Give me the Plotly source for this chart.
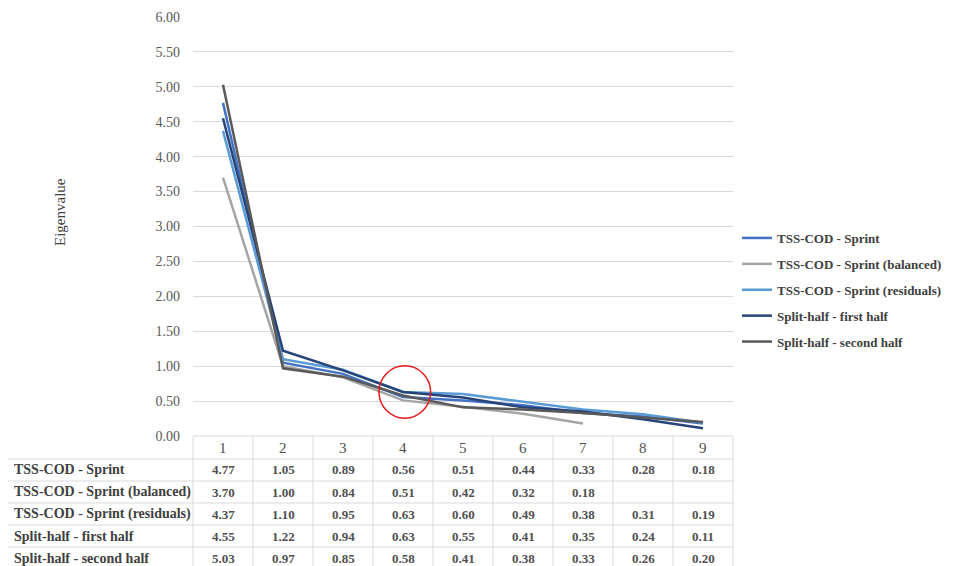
import plotly.graph_objects as go

factors = [1, 2, 3, 4, 5, 6, 7, 8, 9]
series_names = [
    "TSS-COD - Sprint",
    "TSS-COD - Sprint (balanced)",
    "TSS-COD - Sprint (residuals)",
    "Split-half - first half",
    "Split-half - second half",
]
tss_sprint = [4.77, 1.05, 0.89, 0.56, 0.51, 0.44, 0.33, 0.28, 0.18]
tss_balanced = [3.70, 1.00, 0.84, 0.51, 0.42, 0.32, 0.18, None, None]
tss_residuals = [4.37, 1.10, 0.95, 0.63, 0.60, 0.49, 0.38, 0.31, 0.19]
split_first = [4.55, 1.22, 0.94, 0.63, 0.55, 0.41, 0.35, 0.24, 0.11]
split_second = [5.03, 0.97, 0.85, 0.58, 0.41, 0.38, 0.33, 0.26, 0.20]
y_ticks = [0.0, 0.5, 1.0, 1.5, 2.0, 2.5, 3.0, 3.5, 4.0, 4.5, 5.0, 5.5, 6.0]

all_series = [tss_sprint, tss_balanced, tss_residuals, split_first, split_second]
colors = ["#4472C4", "#A5A5A5", "#5B9BD5", "#264478", "#595959"]

FONT = "Liberation Serif"
OFF = 8  # page body margin
W, H = 955 - OFF, 566 - OFF
PL, PR, PT, PB = 193, 733, 17, 436
L, T = PL - OFF, PT - OFF
R = W - (PR - OFF)
B = H - (PB - OFF)
PW = PR - PL
PH = PB - PT

def py(px):
    return (PB - px) / PH

def px_x(px):
    return (px - PL) / PW

fig = go.Figure()
for name, vals, col in zip(series_names, all_series, colors):
    fig.add_trace(go.Scatter(
        x=factors, y=vals, name=name, mode="lines",
        line=dict(color=col, width=2.5), legendgroup=name,
        connectgaps=False,
    ))

shapes = []
annotations = []
grid_col = "#d9d9d9"
txt_col = "#404040"
num_col = "#505050"
table_top = 436
row_h = 22
header_bottom = 459
row_lines = [header_bottom + i * row_h for i in range(6)]
shapes.append(dict(type="line", xref="paper", yref="paper", x0=0, x1=1,
                   y0=py(table_top), y1=py(table_top), line=dict(color=grid_col, width=1)))
for yl in row_lines:
    shapes.append(dict(type="line", xref="paper", yref="paper", x0=px_x(5), x1=1,
                       y0=py(yl), y1=py(yl), line=dict(color=grid_col, width=1)))
bottom = 575
for i in range(10):
    xp = i / 9
    shapes.append(dict(type="line", xref="paper", yref="paper", x0=xp, x1=xp,
                       y0=py(table_top), y1=py(bottom), line=dict(color=grid_col, width=1)))
shapes.append(dict(type="line", xref="paper", yref="paper", x0=px_x(5), x1=px_x(5),
                   y0=py(header_bottom), y1=py(bottom), line=dict(color=grid_col, width=1)))

for f in factors:
    annotations.append(dict(x=f, xref="x", y=py(table_top + 11.5), yref="paper",
                            text=str(f), showarrow=False, xanchor="center", yanchor="middle",
                            font=dict(family=FONT, size=15, color=num_col)))
for r, (name, vals) in enumerate(zip(series_names, all_series)):
    yc = py(header_bottom + r * row_h + row_h / 2)
    annotations.append(dict(x=px_x(12), xref="paper", y=yc, yref="paper", text="<b>" + name + "</b>",
                            showarrow=False, xanchor="left", yanchor="middle",
                            font=dict(family=FONT, size=14, color=txt_col)))
    for f, v in zip(factors, vals):
        if v is None:
            continue
        annotations.append(dict(x=f, xref="x", y=yc, yref="paper", text="<b>%.2f</b>" % v,
                                showarrow=False, xanchor="center", yanchor="middle",
                                font=dict(family=FONT, size=13, color=num_col)))

annotations.append(dict(x=px_x(60), xref="paper", y=py(212), yref="paper", text="Eigenvalue",
                        textangle=-90, showarrow=False, xanchor="center", yanchor="middle",
                        font=dict(family=FONT, size=15, color=txt_col)))

shapes.append(dict(type="circle", xref="x", yref="y",
                   x0=4.03 - 0.43, x1=4.03 + 0.43, y0=0.63 - 0.375, y1=0.63 + 0.375,
                   line=dict(color="#e41a1c", width=1.5)))

fig.update_layout(
    width=W, height=H,
    margin=dict(l=L, r=R, t=T, b=B, autoexpand=False),
    paper_bgcolor="white", plot_bgcolor="white",
    font=dict(family=FONT, size=14, color=txt_col),
    xaxis=dict(range=[0.5, 9.5], showticklabels=False, showgrid=False, zeroline=False,
               showline=False, ticks=""),
    yaxis=dict(range=[0, 6], tickvals=y_ticks, tickformat=".2f", showgrid=True,
               gridcolor=grid_col, gridwidth=1, zeroline=False, showline=False,
               ticks="", ticklabelstandoff=12,
               tickfont=dict(family=FONT, size=14, color="#595959")),
    showlegend=True,
    legend=dict(x=px_x(737), xanchor="left", y=py(223), yanchor="top",
                font=dict(family=FONT, size=13, color=txt_col, weight="bold"),
                tracegroupgap=6, itemwidth=30, bgcolor="rgba(0,0,0,0)"),
    shapes=shapes, annotations=annotations,
)

fig.write_html("out.html")
